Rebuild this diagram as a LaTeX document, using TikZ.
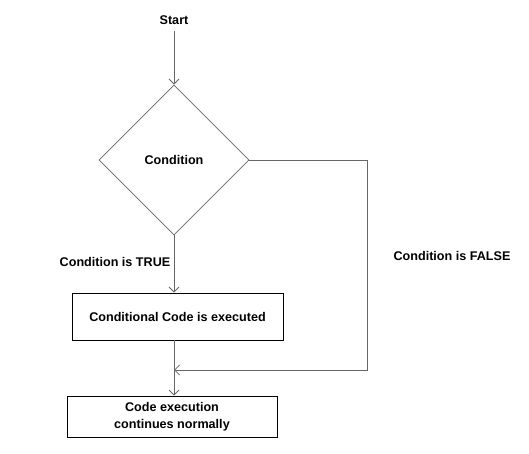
\documentclass[tikz,border=0pt]{standalone}
\usepackage{fontspec}
\setmainfont{Liberation Sans}
\usetikzlibrary{positioning,shapes.geometric,arrows.meta}

\begin{document}
\begin{tikzpicture}[x=1pt, y=1pt,
                    font=\fontsize{12.6}{17}\selectfont\bfseries,
                    flow/.style={draw=black!60, line width=0.8pt, -{Straight Barb[length=5pt,width=10pt]}},
                    decide/.style={diamond, draw=black!60, line width=0.8pt, minimum width=150pt, minimum height=150pt, inner sep=0pt},
                    codebox/.style={rectangle, draw=black, line width=0.8pt, align=center, inner sep=0pt}]
\useasboundingbox (0,0) rectangle (529,454);

\node (start) at (174,434) {Start};
\node[decide] (cond) at (174,294) {Condition};
\node[codebox, minimum width=211pt, minimum height=47pt] (code) at (177.5,137.5) {Conditional Code is executed};
\node[codebox, minimum width=210pt, minimum height=41pt] (cont) at (172,37.5) {Code execution\\ continues normally};

\node (truelbl) at (115,192) {Condition is TRUE};
\node (falselbl) at (452,198) {Condition is FALSE};

\coordinate (turn) at (367,84);
\coordinate (join) at (174,84);

 \draw[flow, shorten <=3pt] (start) -- (cond.north);
 \draw[flow] (cond.south) -- (cond.south |- code.north);
 \draw[flow] (cond.south |- code.south) -- (cond.south |- cont.north);
 \draw[flow] (cond.east) -- (cond.east -| turn) -- (turn) -- (join);
\end{tikzpicture}
\end{document}
